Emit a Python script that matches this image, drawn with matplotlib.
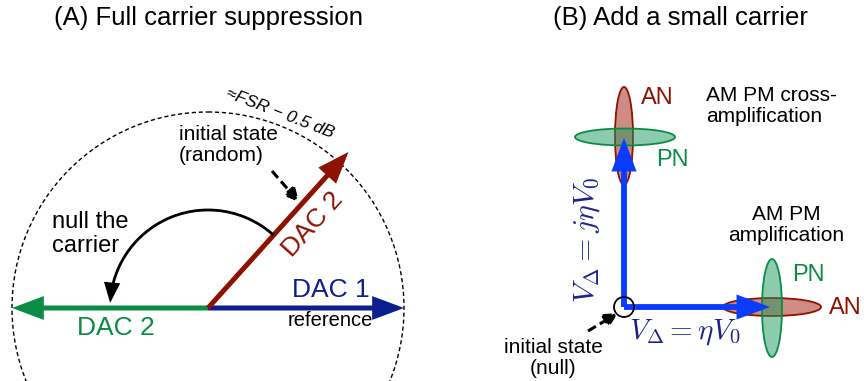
import numpy as np
import matplotlib
matplotlib.use("Agg")
import matplotlib.pyplot as plt
from matplotlib.patches import Circle, Ellipse, FancyArrowPatch

plt.rcParams['font.family'] = ['Liberation Sans', 'DejaVu Sans']
plt.rcParams['mathtext.fontset'] = 'cm'

# panel A: phasors around the left origin (pixel units)
origin_a = (208, 308)
fsr_radius = 196
dac1_len = 196          # reference, along 0 deg
dac2_init_len = 210     # random initial state
dac2_init_angle = 48    # degrees
dac2_null_len = 196     # nulled state, along 180 deg
null_arc_radius = 98
null_arc_span = (48, 177)

# panel B: small carrier phasors around the right origin
origin_b = (624, 307)
carrier_len = 146
ellipse_long = 98
ellipse_short = 18

GREEN = '#0b8c45'
NAVY = '#0d1f8f'
DARKRED = '#8e1200'
BLUE = '#0a3cff'
TEXTNAVY = '#1c2288'

fig = plt.figure(figsize=(8.64, 3.81), dpi=100)
ax = fig.add_axes([0, 0, 1, 1])
ax.set_xlim(0, 864)
ax.set_ylim(381, 0)
ax.set_aspect('equal')
ax.axis('off')


def pt(o, r, ang):
    a = np.deg2rad(ang)
    return (o[0] + r * np.cos(a), o[1] - r * np.sin(a))


def arrow(p0, p1, color, lw, hl=0.8, hw=0.3, ms=20, ls='-', z=3):
    ap = FancyArrowPatch(p0, p1, arrowstyle=f'-|>,head_length={hl},head_width={hw}',
                         mutation_scale=ms, color=color, lw=lw, linestyle=ls,
                         shrinkA=0, shrinkB=0, zorder=z, joinstyle='miter', capstyle='butt')
    ax.add_patch(ap)


# ---- (A) Full carrier suppression ----
ax.text(208, 18, '(A) Full carrier suppression', fontsize=18.5, ha='center', va='center')

ax.add_patch(Circle(origin_a, fsr_radius, fill=False, ls=(0, (3, 2)), lw=1, color='black'))
ax.text(280, 113, '≈FSR − 0.5 dB', fontsize=12.5, style='italic', rotation=-21,
        ha='center', va='center')

arrow(origin_a, pt(origin_a, dac2_null_len, 180), GREEN, 3.6)
arrow(origin_a, pt(origin_a, dac1_len, 0), NAVY, 3.6)
arrow(origin_a, pt(origin_a, dac2_init_len, dac2_init_angle), DARKRED, 3.6)

# curved "null the carrier" arrow
th = np.linspace(null_arc_span[0], null_arc_span[1] - 5, 100)
arc = np.array([pt(origin_a, null_arc_radius, t) for t in th])
ax.plot(arc[:, 0], arc[:, 1], color='black', lw=2, solid_capstyle='butt', zorder=4)
arrow(tuple(arc[-1]), pt(origin_a, null_arc_radius, null_arc_span[1]), 'black', 2,
      hl=0.55, hw=0.22, z=4)

arrow((272, 171), (299, 202), 'black', 2.2, hl=0.4, hw=0.2, ls=(0, (3, 1.5)))

ax.text(179, 145, 'initial state\n(random)', fontsize=15, ha='left', va='center',
        linespacing=1.15)
ax.text(52, 234, 'null the\ncarrier', fontsize=17, ha='left', va='center', linespacing=1.1)
ax.text(313, 224, 'DAC 2', fontsize=19, color=DARKRED, rotation=dac2_init_angle,
        ha='center', va='center', rotation_mode='anchor')
ax.text(331, 290, 'DAC 1', fontsize=19, color=NAVY, ha='center', va='center')
ax.text(330, 320, 'reference', fontsize=14.5, ha='center', va='center')
ax.text(116, 328, 'DAC 2', fontsize=19, color=GREEN, ha='center', va='center')

# ---- (B) Add a small carrier ----
ax.text(680, 18, '(B) Add a small carrier', fontsize=18.5, ha='center', va='center')

red_face = (0.66, 0.18, 0.13, 0.55)
green_face = (0.1, 0.6, 0.36, 0.5)

ax.add_patch(Ellipse((624, 136), ellipse_short, ellipse_long, fc=red_face, ec=DARKRED, lw=1.3, zorder=2))
ax.add_patch(Ellipse((625, 137), ellipse_long + 2, ellipse_short - 1, fc=green_face, ec=GREEN, lw=1.3, zorder=2))
ax.add_patch(Ellipse((772, 307), ellipse_long, ellipse_short, fc=red_face, ec=DARKRED, lw=1.3, zorder=2))
ax.add_patch(Ellipse((772, 308), ellipse_short + 2, ellipse_long, fc=green_face, ec=GREEN, lw=1.3, zorder=2))

arrow(origin_b, pt(origin_b, carrier_len + 23, 90), BLUE, 4.2)
arrow(origin_b, pt(origin_b, carrier_len, 0), BLUE, 4.2)
ax.add_patch(Circle(origin_b, 10, fill=False, lw=1.3, color='black', zorder=5))

ax.text(657, 98, 'AN', fontsize=17, color=DARKRED, ha='center', va='center')
ax.text(672, 160, 'PN', fontsize=17, color=GREEN, ha='center', va='center')
ax.text(706, 106, 'AM PM cross-\namplification', fontsize=15, ha='left', va='center',
        linespacing=1.15)
ax.text(786, 225, 'AM PM\namplification', fontsize=15, ha='center', va='center',
        linespacing=1.15)
ax.text(808, 275, 'PN', fontsize=17, color=GREEN, ha='center', va='center')
ax.text(845, 308, 'AN', fontsize=17, color=DARKRED, ha='center', va='center')

ax.text(587, 240, r'$V_\Delta = j\eta V_0$', fontsize=21.5, color=TEXTNAVY, rotation=90,
        ha='center', va='center')
ax.text(685, 332, r'$V_\Delta = \eta V_0$', fontsize=21, color=TEXTNAVY,
        ha='center', va='center')

arrow((588, 331), (618, 313), 'black', 2.2, hl=0.4, hw=0.2, ls=(0, (3, 1.5)), z=6)
ax.text(553, 358, 'initial state\n(null)', fontsize=15, ha='center', va='center',
        linespacing=1.15)

fig.savefig('out.png', dpi=100)
